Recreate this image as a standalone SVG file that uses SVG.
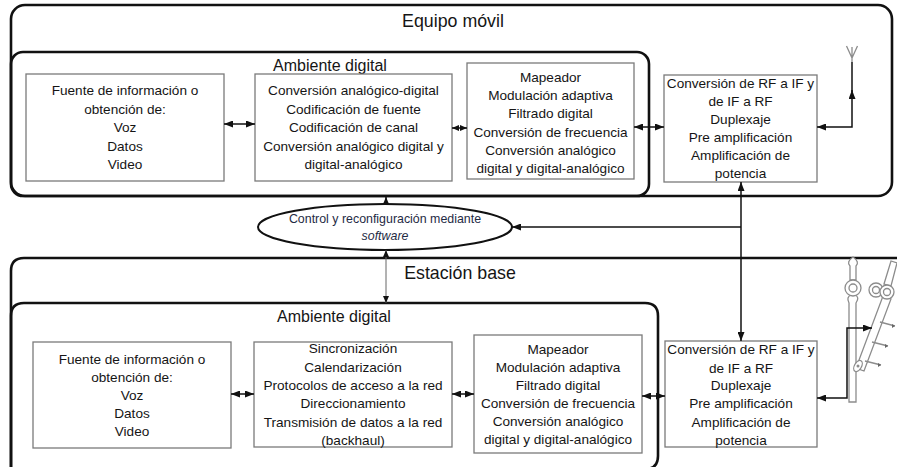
<svg xmlns="http://www.w3.org/2000/svg" width="897" height="467" viewBox="0 0 897 467">
  <defs>
    <style>
      .frame { fill: none; stroke: #111; stroke-width: 2.6; }
      .box { fill: #fff; stroke: #7a7a7a; stroke-width: 1.3; }
      .t { font-family: "Liberation Sans", Arial, sans-serif; font-size: 13.6px; text-anchor: middle; fill: #151515; }
      .title { font-family: "Liberation Sans", Arial, sans-serif; font-size: 17.8px; text-anchor: middle; fill: #151515; }
      .sub { font-family: "Liberation Sans", Arial, sans-serif; font-size: 16px; text-anchor: middle; fill: #151515; }
      .ctl { font-family: "Liberation Sans", Arial, sans-serif; font-size: 12.4px; text-anchor: middle; fill: #1f2b45; }
      .link { fill: none; stroke: #111; stroke-width: 1.5; }
      .thin { fill: none; stroke: #666; stroke-width: 1; }
      .ant { fill: #fff; stroke: #8c8c8c; stroke-width: 1.3; }
      .antl { fill: none; stroke: #8c8c8c; stroke-width: 1.3; }
    </style>
    <marker id="ah" viewBox="0 0 9 7" refX="9" refY="3.5" markerWidth="9" markerHeight="7" markerUnits="userSpaceOnUse" orient="auto-start-reverse">
      <path d="M0,0 L9,3.5 L0,7 z" fill="#111"/>
    </marker>
    <marker id="ahs" viewBox="0 0 7 6" refX="7" refY="3" markerWidth="7" markerHeight="6" markerUnits="userSpaceOnUse" orient="auto-start-reverse">
      <path d="M0,0 L7,3 L0,6 z" fill="#111"/>
    </marker>
  </defs>

  <!-- Mobile equipment frame -->
  <g id="equipo-movil">
    <rect class="frame" x="11" y="5" width="881" height="191" rx="14"/>
    <text class="title" x="453" y="27">Equipo móvil</text>
  </g>
  <g id="ambiente-digital-movil">
    <rect class="frame" x="11" y="52" width="638" height="144" rx="12"/>
    <text class="sub" x="330" y="71">Ambiente digital</text>
  </g>

  <!-- Base station frame -->
  <g id="estacion-base">
    <path class="frame" d="M11,490 L11,271 Q11,258 24,258 L905,258"/>
    <text class="title" x="460" y="279">Estación base</text>
  </g>
  <g id="ambiente-digital-base">
    <path class="frame" d="M11,490 L11,316 Q11,303 24,303 L645,303 Q658,303 658,316 L658,456 Q658,469 645,469 L11,469"/>
    <text class="sub" x="334" y="322">Ambiente digital</text>
  </g>

  <!-- Mobile equipment blocks -->
  <g id="fuente-movil">
    <rect class="box" x="26" y="74" width="198" height="107"/>
    <text class="t" x="125" y="95">Fuente de información o</text>
    <text class="t" x="125" y="113.5">obtención de:</text>
    <text class="t" x="125" y="132">Voz</text>
    <text class="t" x="125" y="150.5">Datos</text>
    <text class="t" x="125" y="169">Video</text>
  </g>
  <g id="codificacion-movil">
    <rect class="box" x="255" y="74" width="197" height="107"/>
    <text class="t" x="353.5" y="95">Conversión analógico-digital</text>
    <text class="t" x="353.5" y="113.5">Codificación de fuente</text>
    <text class="t" x="353.5" y="132">Codificación de canal</text>
    <text class="t" x="353.5" y="150.5">Conversión analógico digital y</text>
    <text class="t" x="353.5" y="169">digital-analógico</text>
  </g>
  <g id="mapeador-movil">
    <rect class="box" x="467" y="63" width="167" height="116"/>
    <text class="t" x="550.5" y="82">Mapeador</text>
    <text class="t" x="550.5" y="100">Modulación adaptiva</text>
    <text class="t" x="550.5" y="118">Filtrado digital</text>
    <text class="t" x="550.5" y="136.5">Conversión de frecuencia</text>
    <text class="t" x="550.5" y="155">Conversión analógico</text>
    <text class="t" x="550.5" y="173">digital y digital-analógico</text>
  </g>
  <g id="rf-movil">
    <rect class="box" x="664" y="75" width="153" height="107"/>
    <text class="t" x="740.5" y="88">Conversión de RF a IF y</text>
    <text class="t" x="740.5" y="106">de IF a RF</text>
    <text class="t" x="740.5" y="124">Duplexaje</text>
    <text class="t" x="740.5" y="142">Pre amplificación</text>
    <text class="t" x="740.5" y="160">Amplificación de</text>
    <text class="t" x="740.5" y="178">potencia</text>
  </g>
  <g id="antena-movil">
    <path class="antl" d="M852,62 L852,47 M852,58 L846.5,46 M852,58 L857.5,46"/>
  </g>

  <!-- Software control -->
  <g id="control-software">
    <ellipse cx="385" cy="227" rx="127" ry="23" fill="#fff" stroke="#111" stroke-width="2"/>
    <text class="ctl" x="385" y="223">Control y reconfiguración mediante</text>
    <text class="ctl" x="385" y="240" font-style="italic">software</text>
  </g>

  <!-- Base station blocks -->
  <g id="fuente-base">
    <rect class="box" x="33" y="342" width="198" height="106"/>
    <text class="t" x="132" y="364">Fuente de información o</text>
    <text class="t" x="132" y="382">obtención de:</text>
    <text class="t" x="132" y="400">Voz</text>
    <text class="t" x="132" y="418">Datos</text>
    <text class="t" x="132" y="436">Video</text>
  </g>
  <g id="red-base">
    <rect class="box" x="254" y="342" width="198" height="105"/>
    <text class="t" x="353" y="353">Sincronización</text>
    <text class="t" x="353" y="371.5">Calendarización</text>
    <text class="t" x="353" y="390">Protocolos de acceso a la red</text>
    <text class="t" x="353" y="408">Direccionamiento</text>
    <text class="t" x="353" y="426.5">Transmisión de datos a la red</text>
    <text class="t" x="353" y="445">(backhaul)</text>
  </g>
  <g id="mapeador-base">
    <rect class="box" x="474" y="335" width="168" height="118"/>
    <text class="t" x="558" y="354">Mapeador</text>
    <text class="t" x="558" y="372">Modulación adaptiva</text>
    <text class="t" x="558" y="390">Filtrado digital</text>
    <text class="t" x="558" y="408">Conversión de frecuencia</text>
    <text class="t" x="558" y="426">Conversión analógico</text>
    <text class="t" x="558" y="444">digital y digital-analógico</text>
  </g>
  <g id="rf-base">
    <rect class="box" x="665" y="341" width="152" height="106"/>
    <text class="t" x="741" y="354">Conversión de RF a IF y</text>
    <text class="t" x="741" y="372.5">de IF a RF</text>
    <text class="t" x="741" y="390">Duplexaje</text>
    <text class="t" x="741" y="408">Pre amplificación</text>
    <text class="t" x="741" y="426.5">Amplificación de</text>
    <text class="t" x="741" y="445">potencia</text>
  </g>

  <!-- Base station antenna mast -->
  <g id="antena-base">
    <path class="ant" d="M850,280 L850,266 Q846,262 853,257 Q860,262 856,266 L856,280 Z"/>
    <path class="ant" d="M849,402 L849,303 Q846,297 851,295 L855,295 Q860,297 856,303 L856,402 Z"/>
    <circle class="ant" cx="853" cy="288" r="8"/>
    <circle class="ant" cx="853" cy="288" r="4"/>
    <path class="ant" d="M884,284 L891,261 L897,263 L891,286 Z"/>
    <path class="ant" d="M883,296 L891,299 L864,371 L856,368 Z"/>
    <circle class="ant" cx="876" cy="290" r="7"/>
    <circle class="ant" cx="876" cy="290" r="3.5"/>
    <circle class="ant" cx="887" cy="292" r="7"/>
    <circle class="ant" cx="887" cy="292" r="3.5"/>
    <ellipse class="ant" cx="858" cy="366" rx="6" ry="3.5" transform="rotate(-60 858 366)"/>
    <circle cx="858" cy="366" r="1.5" fill="#8c8c8c"/>
    <path class="antl" d="M880,322 L895,326 M872,342 L888,346 M865,361 L881,365"/>
    <path d="M895,326 l-3,-2 v4 z M888,346 l-3,-2 v4 z M881,365 l-3,-2 v4 z" fill="#666"/>
  </g>

  <!-- Connectors -->
  <g id="connectors">
    <line class="link" x1="224" y1="124" x2="255" y2="124" marker-start="url(#ah)" marker-end="url(#ah)"/>
    <line class="link" x1="452" y1="128" x2="467" y2="128" marker-start="url(#ahs)" marker-end="url(#ahs)"/>
    <line class="link" x1="634" y1="127" x2="664" y2="127" marker-start="url(#ah)" marker-end="url(#ah)"/>
    <path class="link" d="M817,127 L852,127 L852,90" marker-start="url(#ah)" marker-end="url(#ah)"/>
    <line class="link" x1="852" y1="92" x2="852" y2="62"/>

    <line class="link" x1="741" y1="182" x2="741" y2="341" marker-start="url(#ah)" marker-end="url(#ah)"/>
    <line class="link" x1="741" y1="227" x2="512" y2="227" marker-end="url(#ah)"/>
    <line class="link" x1="386" y1="204" x2="386" y2="197" marker-end="url(#ahs)"/>
    <line class="thin" x1="386" y1="250" x2="386" y2="303" marker-start="url(#ahs)" marker-end="url(#ahs)"/>

    <line class="link" x1="231" y1="394" x2="254" y2="394" marker-start="url(#ah)" marker-end="url(#ah)"/>
    <line class="link" x1="452" y1="394" x2="474" y2="394" marker-start="url(#ah)" marker-end="url(#ah)"/>
    <line class="link" x1="642" y1="396" x2="665" y2="396" marker-start="url(#ah)" marker-end="url(#ah)"/>
    <path class="link" d="M817,398 L847,398 L847,328 L872,328" marker-start="url(#ah)" marker-end="url(#ah)"/>
  </g>
</svg>
